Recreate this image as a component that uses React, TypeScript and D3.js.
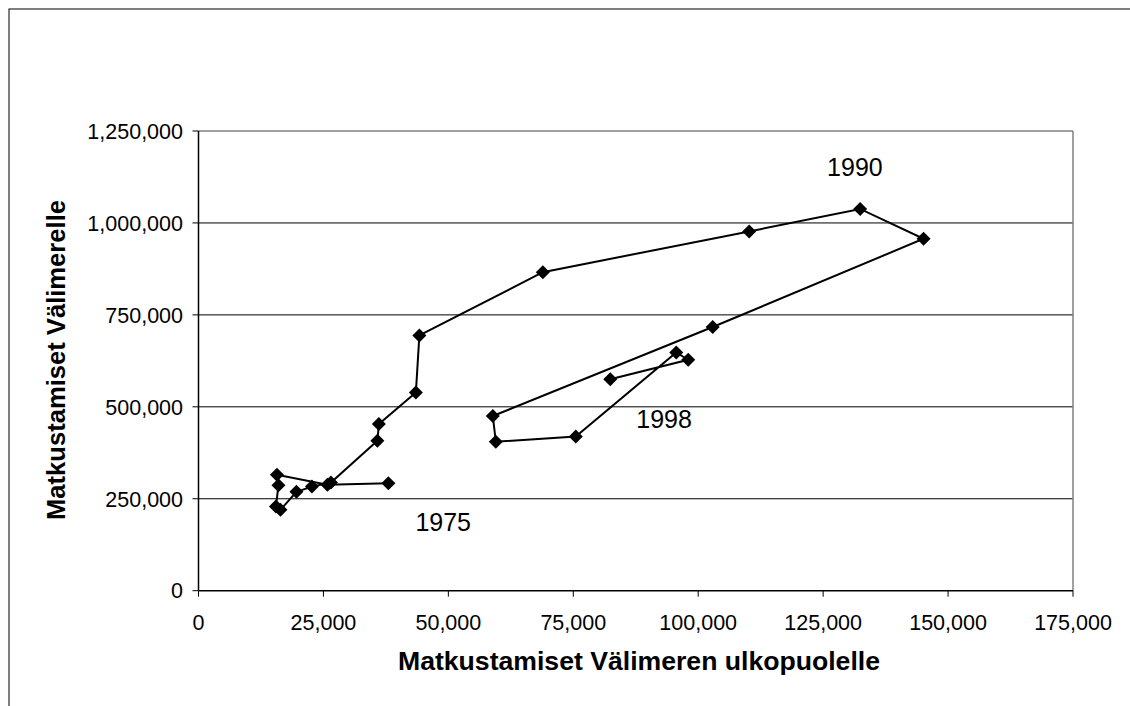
import React from "react";
import * as d3 from "d3";

// Years of the connected scatter
const years = [1975,1976,1977,1978,1979,1980,1981,1982,1983,1984,1985,1986,1987,1988,1989,1990,1991,1992,1993,1994,1995,1996,1997,1998];
// Matkustamiset Välimeren ulkopuolelle
const outside = [38000,25800,15700,16000,15500,16400,19600,22700,26500,35800,36100,43500,44200,68900,110200,132400,145100,102900,58900,59500,75500,95600,98000,82400];
// Matkustamiset Välimerelle
const mediterranean = [292000,288000,315000,287000,229000,220000,269000,283000,294000,408000,453000,539000,694000,866000,977000,1038000,957000,717000,475000,405000,419000,648000,628000,575000];

const xTicks = [0,25000,50000,75000,100000,125000,150000,175000];
const yTicks = [0,250000,500000,750000,1000000,1250000];
const labeledYears = [1975,1990,1998];

const W = 1130, H = 706;
const left = 198.5, right = 1073, top = 131, bottom = 590.7;

export default function App() {
  const x = d3.scaleLinear().domain([0,175000]).range([left,right]);
  const y = d3.scaleLinear().domain([0,1250000]).range([bottom,top]);
  const fmt = d3.format(",");
  const pts = years.map((yr,i)=>({yr, x: x(outside[i]), y: y(mediterranean[i])}));
  const line = d3.line<{x:number,y:number}>().x(d=>d.x).y(d=>d.y)(pts) || "";
  const font = "Arial, 'Liberation Sans', Helvetica, sans-serif";
  const r = 7;
  const labelOffsets: Record<number,[number,number]> = {1975:[27,48],1990:[-33,-33],1998:[26,49]};
  return (
    <svg width={W} height={H} style={{position:"absolute",left:0,top:0,display:"block",background:"#fff"}} fontFamily={font}>
      <rect x={9} y={9} width={1200} height={800} fill="none" stroke="#000" strokeWidth={1}/>
      {/* gridlines */}
      {yTicks.filter(t=>t>0 && t<1250000).map(t=>(
        <line key={t} x1={left} x2={right} y1={y(t)} y2={y(t)} stroke="#000" strokeWidth={1}/>
      ))}
      {/* plot border */}
      <line x1={left} x2={right} y1={top} y2={top} stroke="#808080" strokeWidth={1.5}/>
      <line x1={right} x2={right} y1={top} y2={bottom} stroke="#808080" strokeWidth={1.5}/>
      {/* axes */}
      <line x1={left} x2={left} y1={top} y2={bottom} stroke="#000" strokeWidth={1.5}/>
      <line x1={left} x2={right} y1={bottom} y2={bottom} stroke="#000" strokeWidth={1.5}/>
      {yTicks.map(t=>(
        <g key={t}>
          <line x1={left-6} x2={left} y1={y(t)} y2={y(t)} stroke="#000" strokeWidth={1}/>
          <text x={183} y={y(t)} dy="0.36em" textAnchor="end" fontSize={21.5} fill="#000">{fmt(t)}</text>
        </g>
      ))}
      {xTicks.map(t=>(
        <g key={t}>
          <line x1={x(t)} x2={x(t)} y1={bottom} y2={bottom+6} stroke="#000" strokeWidth={1}/>
          <text x={x(t)} y={630} textAnchor="middle" fontSize={21.5} fill="#000">{fmt(t)}</text>
        </g>
      ))}
      <path d={line} fill="none" stroke="#000" strokeWidth={2}/>
      {pts.map(p=>(
        <path key={p.yr} d={`M${p.x},${p.y-r}L${p.x+r},${p.y}L${p.x},${p.y+r}L${p.x-r},${p.y}Z`} fill="#000"/>
      ))}
      {pts.filter(p=>labeledYears.includes(p.yr)).map(p=>(
        <text key={"l"+p.yr} x={p.x+labelOffsets[p.yr][0]} y={p.y+labelOffsets[p.yr][1]} fontSize={25} fill="#000">{p.yr}</text>
      ))}
      <text x={639} y={670} textAnchor="middle" fontSize={25} fontWeight="bold" fill="#000" textLength={482} lengthAdjust="spacingAndGlyphs">Matkustamiset Välimeren ulkopuolelle</text>
      <text transform={`translate(65,360) rotate(-90)`} textAnchor="middle" fontSize={25} fontWeight="bold" fill="#000" textLength={320} lengthAdjust="spacingAndGlyphs">Matkustamiset Välimerelle</text>
    </svg>
  );
}
